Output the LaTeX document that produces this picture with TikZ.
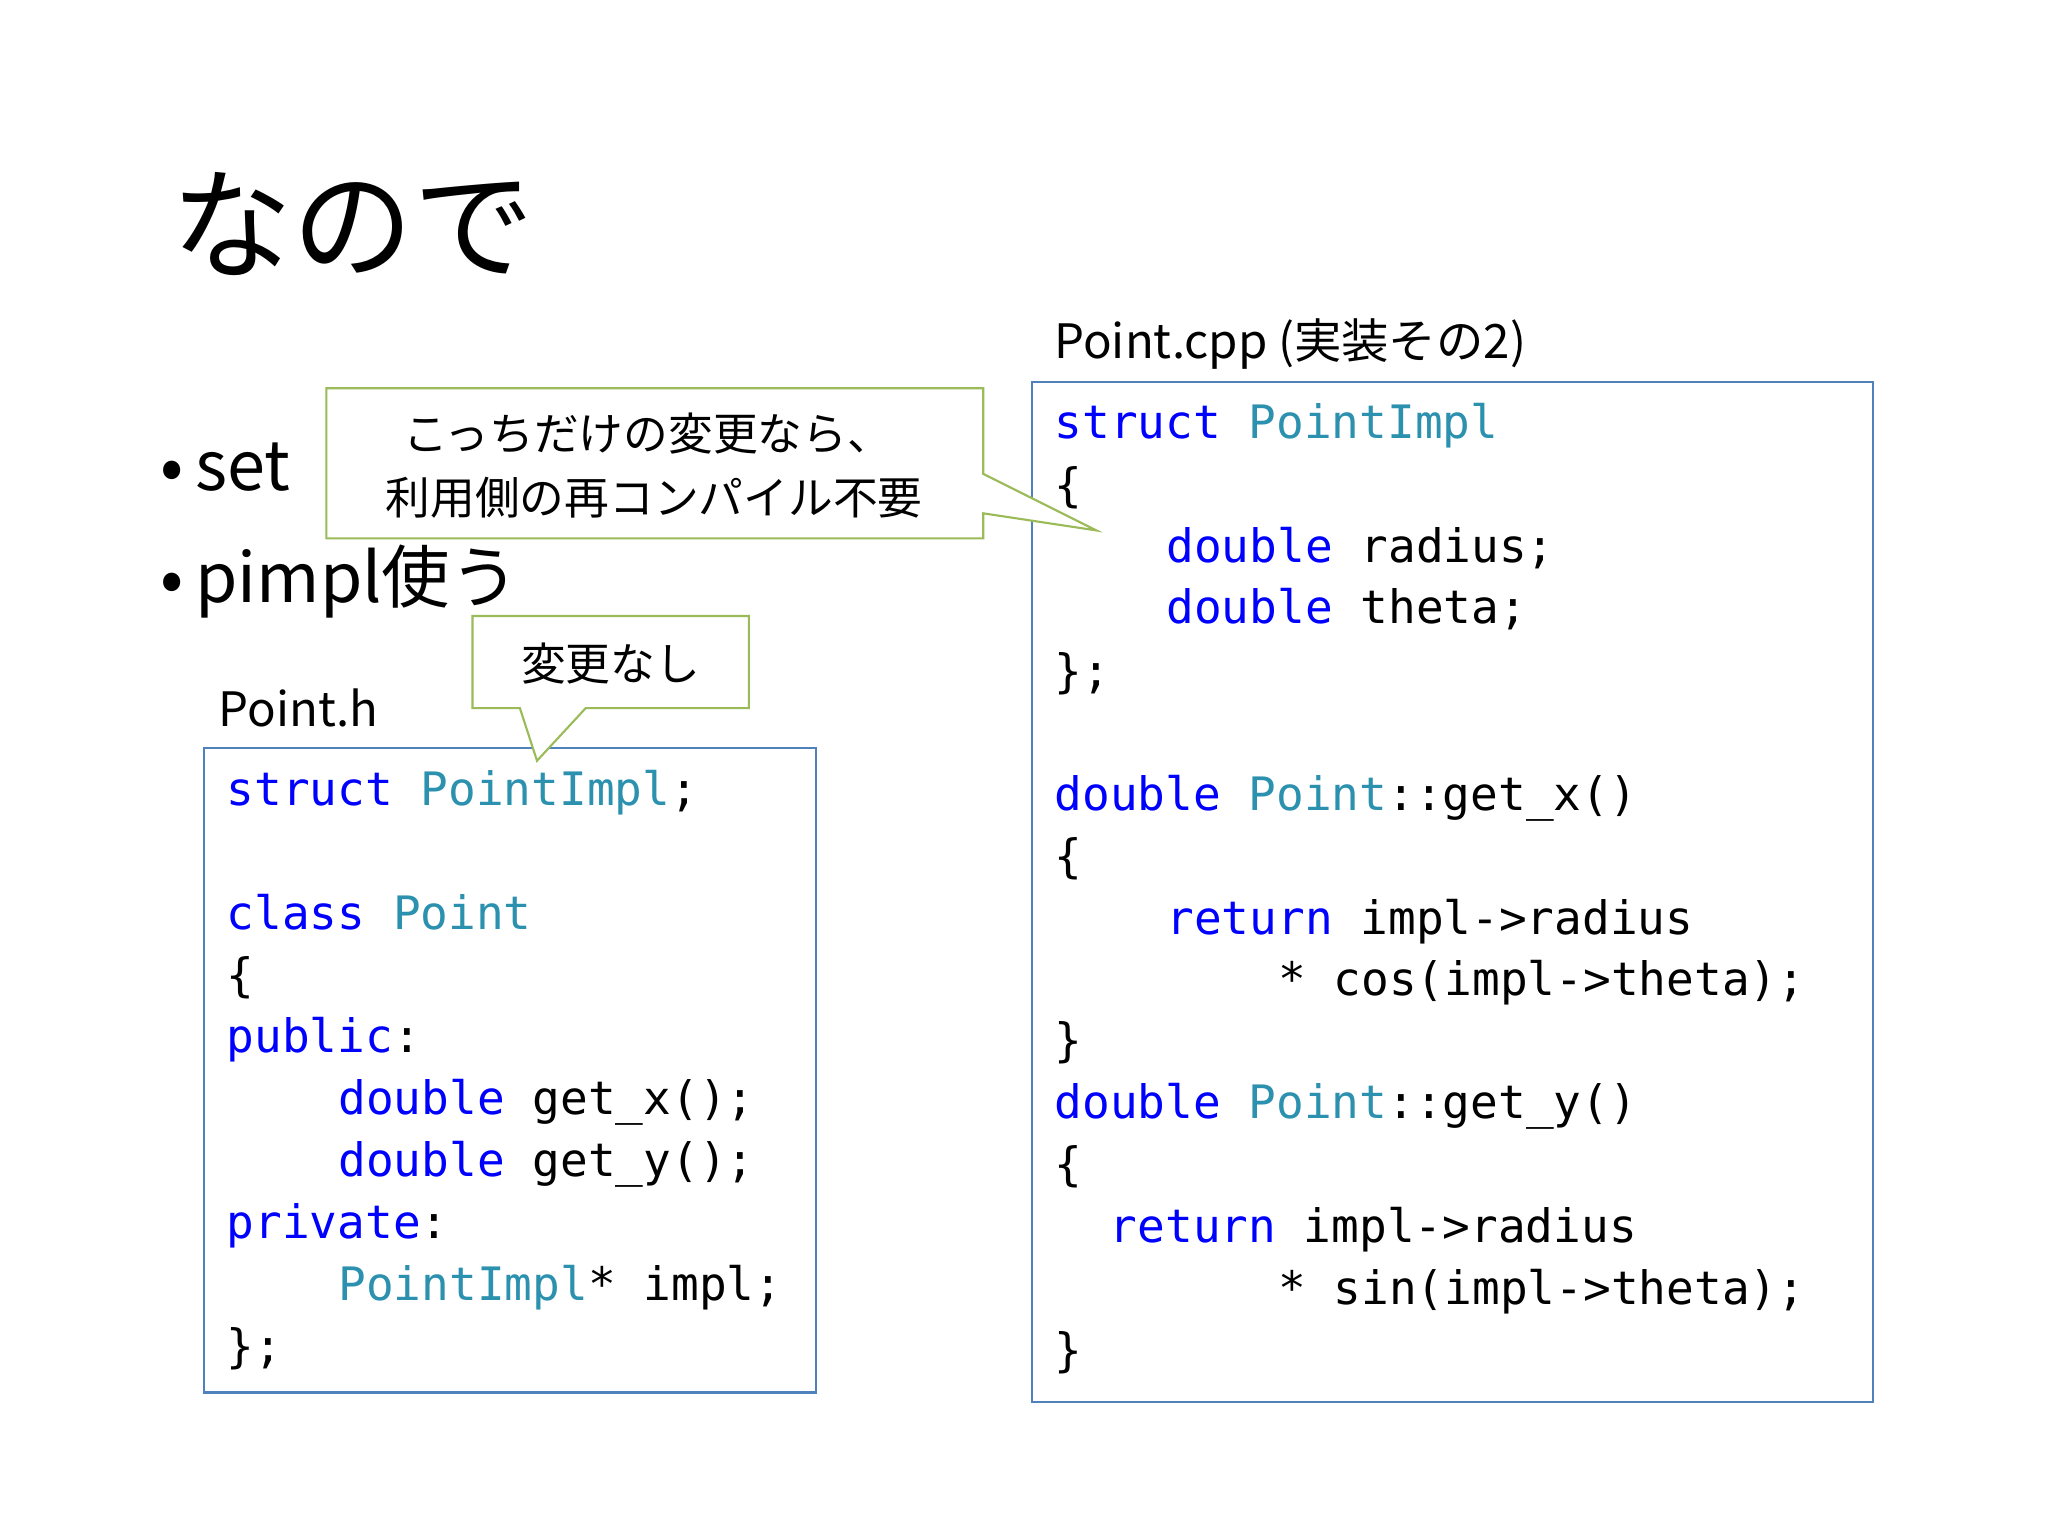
\documentclass[tikz,border=0pt]{standalone}
\usepackage{fontspec}
\setmonofont{DejaVu Sans Mono}
\newfontfamily\jp{Noto Sans CJK JP}
\definecolor{kw}{HTML}{0000FF}
\definecolor{ty}{HTML}{2B91AF}
\definecolor{bx}{HTML}{4F81BD}
\definecolor{gr}{HTML}{9BBB59}
\newcommand{\K}[1]{\textcolor{kw}{#1}}
\newcommand{\T}[1]{\textcolor{ty}{#1}}
\begin{document}
\begin{tikzpicture}[x=1pt,y=-1pt,
  code/.style={anchor=base west,inner sep=0pt,font=\fontsize{35}{35}\ttfamily},
  lbl/.style={anchor=base west,inner sep=0pt,font=\fontsize{36}{36}\jp},
  big/.style={anchor=base west,inner sep=0pt,font=\fontsize{52}{52}\jp},
  codebox/.style={draw=bx,line width=1.6pt},
  callout/.style={draw=gr,fill=white,line width=1.6pt}]
\useasboundingbox (0,0) rectangle (1556,1167);
\fill[white] (0,0) rectangle (1556,1167);
\node[anchor=base west,inner sep=0pt,font=\fontsize{92}{92}\jp] (title) at (130,205) {なので};
\node[big] (b1) at (122,373) {•\,set};
\node[big] (b2) at (122,458) {•\,pimpl使う};
\node[lbl] (lh) at (166,552) {Point.h};
\node[lbl] (lc) at (801,272) {Point.cpp (実装その2)};
% left box
\draw[codebox] (155,568) rectangle (620,1058);
\node[code] (l1) at (172,612) {\K{struct} \T{PointImpl};};
\node[code] (l2) at (172,706) {\K{class} \T{Point}};
\node[code] (l3) at (172,753) {\{};
\node[code] (l4) at (172,800) {\K{public}:};
\node[code] (l5) at (257,847) {\K{double} get\_x();};
\node[code] (l6) at (257,894) {\K{double} get\_y();};
\node[code] (l7) at (172,941) {\K{private}:};
\node[code] (l8) at (257,988) {\T{PointImpl}* impl;};
\node[code] (l9) at (172,1035) {\};};
% right box
\draw[codebox] (784,290) rectangle (1423,1065);
\node[code] (r1) at (801,333) {\K{struct} \T{PointImpl}};
\node[code] (r2) at (801,381) {\{};
\node[code] (r3) at (886,427) {\K{double} radius;};
\node[code] (r4) at (886,474) {\K{double} theta;};
\node[code] (r5) at (801,522) {\};};
\node[code] (r6) at (801,616) {\K{double} \T{Point}::get\_x()};
\node[code] (r7) at (801,663) {\{};
\node[code] (r8) at (886,710) {\K{return} impl->radius};
\node[code] (r9) at (971,756) {* cos(impl->theta);};
\node[code] (r10) at (801,803) {\}};
\node[code] (r11) at (801,850) {\K{double} \T{Point}::get\_y()};
\node[code] (r12) at (801,897) {\{};
\node[code] (r13) at (843,944) {\K{return} impl->radius};
\node[code] (r14) at (971,991) {* sin(impl->theta);};
\node[code] (r15) at (801,1038) {\}};
% callout 1
\draw[callout] (248,295) -- (747,295) -- (747,360) -- (833,403) -- (747,390) -- (747,409) -- (248,409) -- cycle;
\node[anchor=base,inner sep=0pt,font=\fontsize{34}{34}\jp] (c1a) at (492,342) {こっちだけの変更なら、};
\node[anchor=base,inner sep=0pt,font=\fontsize{34}{34}\jp] (c1b) at (497,391) {利用側の再コンパイル不要};
% callout 2
\draw[callout] (359,468) -- (569,468) -- (569,538) -- (445,538) -- (408,578) -- (395,538) -- (359,538) -- cycle;
\node[anchor=base,inner sep=0pt,font=\fontsize{34}{34}\jp] (c2) at (464,517) {変更なし};
\end{tikzpicture}
\end{document}
